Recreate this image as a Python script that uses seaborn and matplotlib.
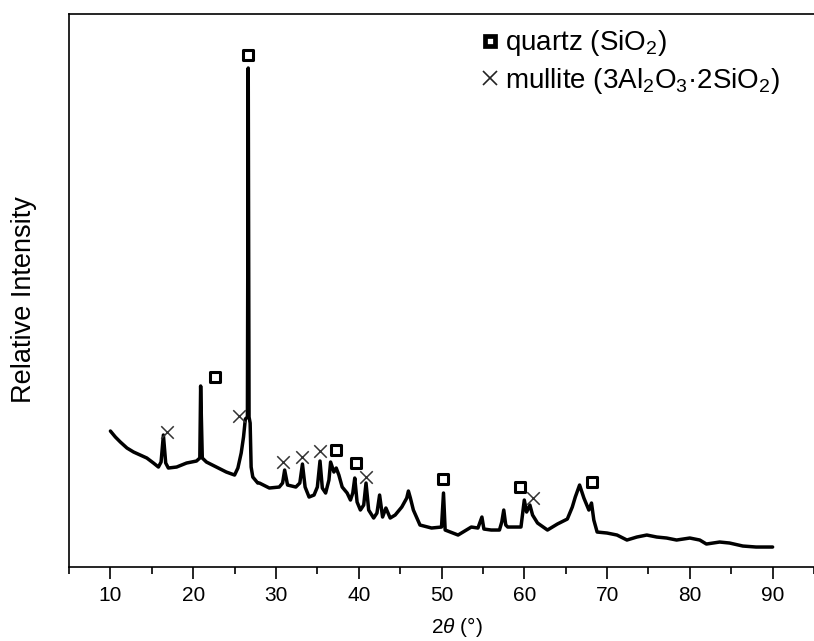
import numpy as np
import pandas as pd
import seaborn as sns
import matplotlib.pyplot as plt
from matplotlib.lines import Line2D

# XRD pattern (2theta in degrees, intensity in arbitrary units)
two_theta = [10.0, 10.6, 11.2, 12.0, 12.8, 13.6, 14.4, 15.2, 15.8, 16.12, 16.4, 16.68,
             17.0, 18.0, 19.2, 20.4, 20.8, 20.9, 21.1, 21.6, 22.8, 24.0, 25.0, 25.4,
             25.8, 26.08, 26.3, 26.55, 26.65, 26.75, 26.88, 27.0, 27.2, 27.8, 28.0, 29.2,
             30.4, 30.8, 31.05, 31.4, 32.4, 32.88, 33.2, 33.52, 34.0, 34.6, 35.0, 35.32,
             35.6, 36.0, 36.4, 36.6, 37.0, 37.28, 37.6, 38.0, 38.6, 39.0, 39.28, 39.52,
             39.8, 40.2, 40.6, 40.88, 41.2, 41.8, 42.2, 42.52, 42.88, 43.28, 43.8, 44.4,
             45.2, 45.8, 46.0, 46.24, 46.6, 47.4, 48.8, 50.0, 50.24, 50.44, 52.0, 53.6,
             54.4, 54.88, 55.12, 56.0, 57.0, 57.28, 57.52, 57.76, 58.0, 59.6, 60.0, 60.28,
             60.68, 61.0, 61.6, 62.8, 64.0, 65.2, 65.8, 66.16, 66.68, 67.2, 67.8, 68.12,
             68.4, 68.8, 70.0, 71.2, 72.4, 73.6, 74.8, 76.0, 77.2, 78.4, 80.0, 81.2,
             82.0, 83.6, 84.8, 86.4, 88.0, 90.0]
intensity = [136, 130, 125, 119, 115, 112, 109, 104, 100, 105, 132, 104,
             99, 100, 104, 106, 109, 181, 109, 105, 100, 95, 92, 99,
             114, 130, 148, 150, 499, 150, 144, 100, 90, 84, 84, 79,
             80, 84, 97, 82, 80, 84, 103, 80, 70, 72, 80, 106,
             79, 74, 87, 105, 95, 99, 92, 80, 74, 67, 74, 89,
             65, 57, 62, 84, 57, 49, 54, 72, 50, 59, 49, 52,
             60, 69, 76, 69, 57, 42, 39, 40, 74, 37, 32, 40,
             39, 50, 38, 37, 37, 45, 57, 42, 40, 40, 67, 55,
             62, 52, 44, 37, 43, 48, 60, 70, 82, 69, 57, 64,
             47, 35, 34, 32, 27, 30, 32, 30, 29, 27, 29, 27,
             23, 25, 24, 21, 20, 20]

# phase markers
quartz_x = [22.6, 26.6, 37.3, 39.7, 50.2, 59.5, 68.2]
quartz_y = [190, 512, 117, 104, 88, 80, 85]
mullite_x = [16.8, 25.5, 30.8, 33.2, 35.3, 40.9, 61.0]
mullite_y = [135, 151, 105, 110, 116, 90, 69]

sns.set_style('ticks')
plt.rcParams['font.family'] = ['Liberation Sans', 'DejaVu Sans']
plt.rcParams['mathtext.fontset'] = 'custom'
plt.rcParams['mathtext.rm'] = 'Liberation Sans'
plt.rcParams['mathtext.it'] = 'Liberation Sans:italic'
plt.rcParams['text.color'] = 'black'
plt.rcParams['axes.labelcolor'] = 'black'
plt.rcParams['xtick.color'] = 'black'

df = pd.DataFrame({'two_theta': two_theta, 'intensity': intensity})

fig = plt.figure(figsize=(8.14, 6.41), dpi=100)
ax = fig.add_axes([0.0848, 0.1154, 0.9152, 0.8627])

sns.lineplot(data=df, x='two_theta', y='intensity', color='black', linewidth=2.5,
             estimator=None, ax=ax)
sns.scatterplot(x=quartz_x, y=quartz_y, marker='s', s=56, facecolor='white',
                edgecolor='black', linewidth=2.2, ax=ax, zorder=3)
sns.scatterplot(x=mullite_x, y=mullite_y, marker='x', s=81, color='#333333',
                linewidth=1.1, ax=ax, zorder=3)

ax.set_xlim(5, 94.4)
ax.set_ylim(0, 553)
ax.set_xticks(np.arange(10, 91, 10))
ax.set_xticks(np.arange(5, 96, 5), minor=True)
ax.set_yticks([])
ax.tick_params(axis='x', which='major', direction='out', length=8.4, width=1.2,
               labelsize=15, pad=5)
ax.tick_params(axis='x', which='minor', direction='out', length=5.3, width=1.2)
for side in ['top', 'left', 'bottom']:
    ax.spines[side].set_linewidth(1.2)
    ax.spines[side].set_color('black')
ax.spines['right'].set_visible(False)

ax.set_xlabel(r'2$\theta$ (°)', fontsize=15)
ax.set_ylabel('Relative Intensity', fontsize=19.5)
ax.xaxis.set_label_coords(0.521, -0.086)
ax.yaxis.set_label_coords(-0.043, 0.483)

handles = [
    Line2D([], [], linestyle='none', marker='s', markersize=7.5, markeredgewidth=3.4,
           markerfacecolor='white', markeredgecolor='black'),
    Line2D([], [], linestyle='none', marker='x', markersize=10, markeredgewidth=1.2,
           color='#222222'),
]
labels = ['quartz (SiO$_2$)', 'mullite (3Al$_2$O$_3$·2SiO$_2$)']
ax.legend(handles, labels, loc='upper left', bbox_to_anchor=(0.557, 0.974),
          frameon=False, fontsize=20, handlelength=0.4, handletextpad=0.36,
          labelspacing=0.28, borderpad=0, borderaxespad=0)

fig.savefig('out.png', dpi=100)
